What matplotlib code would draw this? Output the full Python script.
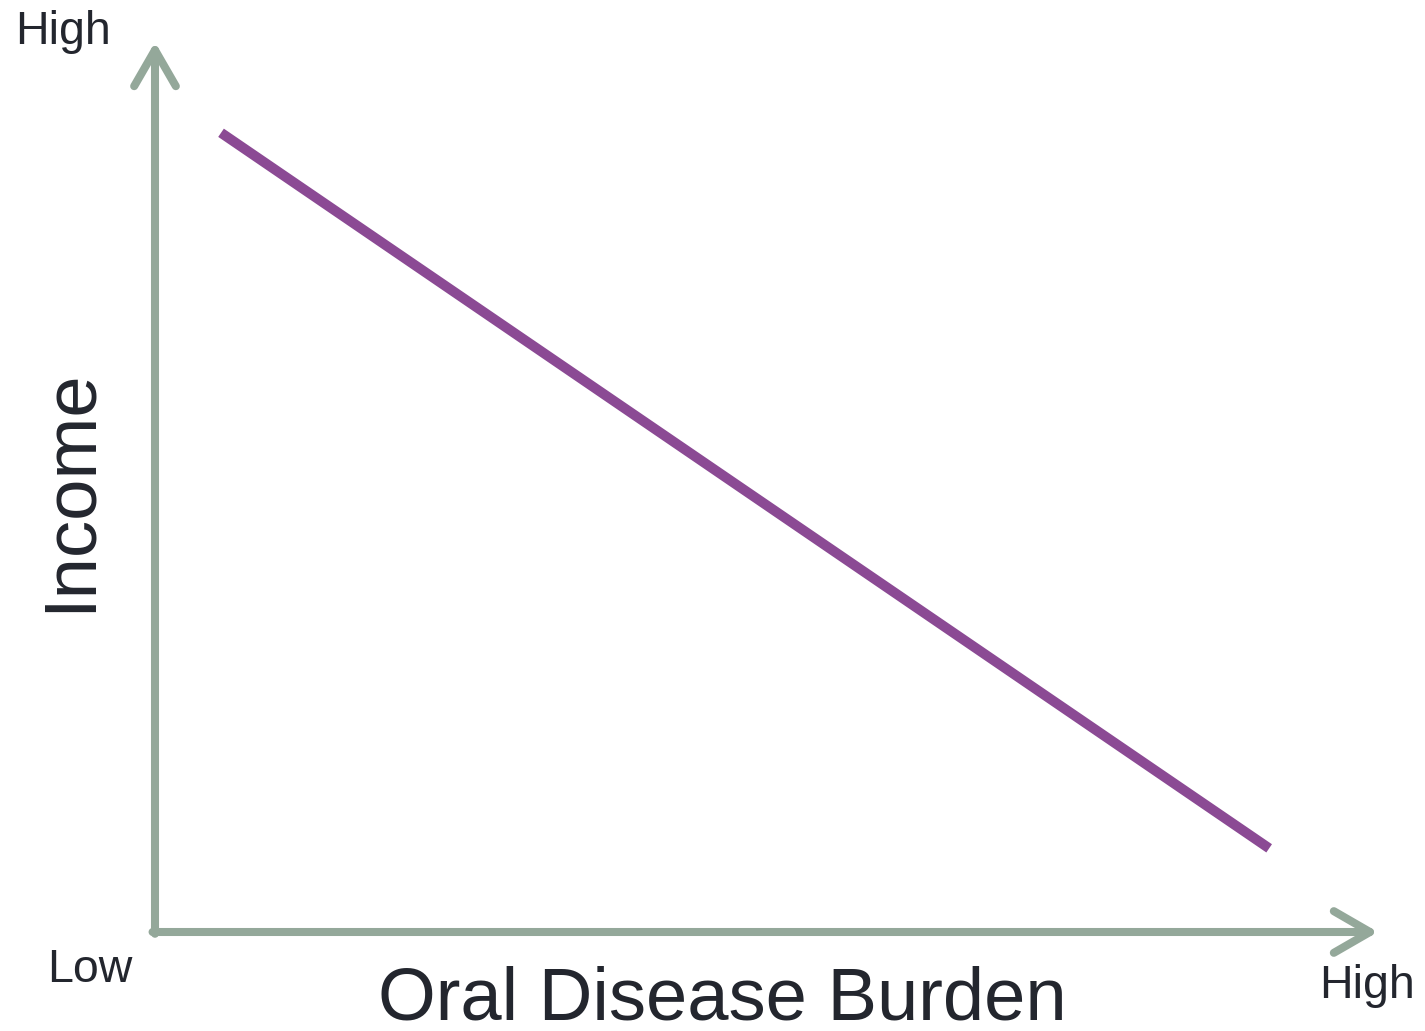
import matplotlib.pyplot as plt

plt.rcParams['font.family'] = ['Liberation Sans', 'DejaVu Sans']

# Data: trend of income vs oral disease burden (schematic, 0-10 scale)
burden = [0.54, 9.11]
income = [8.98, 0.94]

axis_color = '#94a89a'
line_color = '#8b4a94'
text_color = '#23262e'

fig = plt.figure(figsize=(14.25, 10.31), dpi=100)
ax = fig.add_axes([155 / 1425, 99 / 1031, 1223 / 1425, 890 / 1031])
ax.set_xlim(0, 10)
ax.set_ylim(0, 10)
ax.axis('off')

ax.plot(burden, income, color=line_color, lw=7.2, solid_capstyle='butt')

# axis arrows
arrow = dict(arrowstyle='->,head_length=1.3,head_width=0.75', lw=5.8,
             color=axis_color, mutation_scale=20, capstyle='round',
             joinstyle='round', shrinkA=0, shrinkB=0)
ax.annotate('', xy=(0, 1.0), xytext=(0, -0.002), xycoords='axes fraction',
            arrowprops=arrow)
ax.annotate('', xy=(1.0, 0), xytext=(-0.002, 0), xycoords='axes fraction',
            arrowprops=arrow)

fig.text(15 / 1425, 1 - 32 / 1031, 'High', fontsize=33.5, color=text_color,
         ha='left', va='center')
fig.text(47 / 1425, 1 - 970 / 1031, 'Low', fontsize=33.5, color=text_color,
         ha='left', va='center')
fig.text(1319 / 1425, 1 - 986 / 1031, 'High', fontsize=33.5, color=text_color,
         ha='left', va='center')
fig.text(722 / 1425, 1 - 1000 / 1031, 'Oral Disease Burden', fontsize=53.5,
         color=text_color, ha='center', va='center')
fig.text(70 / 1425, 1 - 490 / 1031, 'Income', fontsize=53.5, color=text_color,
         ha='center', va='center', rotation=90)

fig.savefig('out.png', dpi=100, facecolor='white')
